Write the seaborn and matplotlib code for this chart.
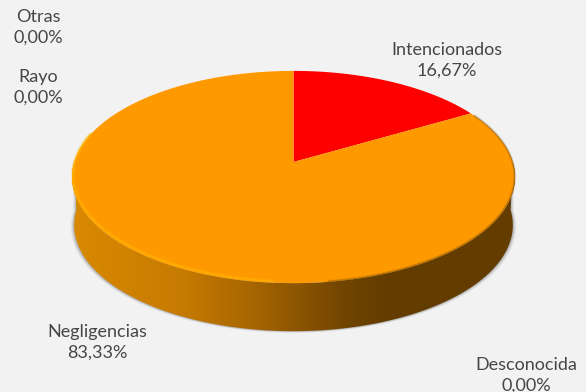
import numpy as np
import matplotlib
matplotlib.use("Agg")
import matplotlib.pyplot as plt
from matplotlib.colors import LinearSegmentedColormap
from matplotlib.patches import Polygon
import seaborn as sns

categories = ["Intencionados", "Negligencias"]
shares = [16.67, 83.33]
slice_colors = ["#ff0000", "#ff9900"]

label_names = ["Otras", "Rayo", "Intencionados", "Negligencias", "Desconocida"]
label_values = ["0,00%", "0,00%", "16,67%", "83,33%", "0,00%"]
label_x = [38, 38, 447, 97, 526]
label_y = [27, 87, 60, 342, 375]

sns.set_theme(style="white", rc={"figure.facecolor": "#f2f2f2", "axes.facecolor": "#f2f2f2"})
plt.rcParams["font.family"] = ["Lato", "DejaVu Sans"]

W, H = 586, 392
fig = plt.figure(figsize=(W / 100, H / 100), dpi=100)
ax = fig.add_axes([0, 0, 1, 1])
ax.set_xlim(0, W)
ax.set_ylim(H, 0)
ax.axis("off")

CX, CY = 293.5, 162.0
A, B, K = 219.3, 104.0, 0.1415
DEPTH = 48


def rim(theta):
    """Project clockwise-from-north angles on the disc to the tilted view."""
    x, y = np.sin(theta), np.cos(theta)
    w = 1 + K * y
    return np.column_stack([CX + A * x / w, CY - B * y / w])


def lower_rim(theta):
    """Bottom edge of the wall, a little narrower than the top face."""
    pts = rim(theta) + [0, DEPTH]
    pts[:, 0] = CX + (pts[:, 0] - CX) * 0.99
    return pts


side_angles = np.linspace(np.pi / 2, 3 * np.pi / 2, 361)

# soft shadow hugging the lower part of the wall
for grow, alpha in [(3.5, 0.06), (2.6, 0.09), (1.7, 0.13), (0.8, 0.2)]:
    low = lower_rim(side_angles)
    low[:, 0] = CX + (low[:, 0] - CX) * (1 + grow / 221)
    low[:, 1] += grow * 0.5
    closing = np.array([[low[-1, 0], 190], [low[0, 0], 190]])
    ax.add_patch(Polygon(np.vstack([low, closing]), closed=True,
                         fc="#4d4d4d", ec="none", alpha=alpha, zorder=1))

# shaded wall of the cylinder
wall_cmap = LinearSegmentedColormap.from_list(
    "wall", [(0, "#d98a00"), (0.25, "#c67a00"), (0.40, "#a86700"), (0.50, "#8f5700"),
             (0.62, "#704400"), (0.72, "#633c00"), (1, "#633c00")])
wall_img = ax.imshow(np.linspace(0, 1, 512)[None, :], cmap=wall_cmap, aspect="auto",
                     extent=[72, 515, 340, 160], zorder=2, interpolation="bilinear")
outline = np.concatenate([rim(side_angles), lower_rim(side_angles[::-1])])
wall = Polygon(outline, closed=True, fc="none", ec="none", transform=ax.transData)
ax.add_patch(wall)
wall_img.set_clip_path(wall)
ax.set_xlim(0, W)
ax.set_ylim(H, 0)

# top face, slices clockwise from north
edges = np.cumsum([0] + shares) / sum(shares) * 2 * np.pi
for start, stop, colour in zip(edges[:-1], edges[1:], slice_colors):
    arc = rim(np.linspace(start, stop, int(360 * (stop - start) / np.pi) + 2))
    ax.add_patch(Polygon(np.vstack([[CX, CY], arc]), closed=True, fc=colour, ec="none", zorder=3))

# bevel: soft highlight along the lower-left rim, soft dark edge on the right
lit = rim(np.linspace(np.radians(185), np.radians(285), 240))
for lw, alpha in [(3.0, 0.2), (1.8, 0.35), (0.9, 0.5)]:
    ax.plot(lit[:, 0] + 1.2, lit[:, 1] - 1.6, color="#ffb300", lw=lw, alpha=alpha, zorder=4)
shade = rim(np.linspace(np.radians(62), np.radians(172), 240))
for lw, alpha in [(2.0, 0.15), (1.0, 0.3)]:
    ax.plot(shade[:, 0] - 0.4, shade[:, 1] - 0.4, color="#6b4200", lw=lw, alpha=alpha, zorder=4)

for name, value, x, y in zip(label_names, label_values, label_x, label_y):
    ax.text(x, y, f"{name}\n{value}", ha="center", va="center", fontsize=13,
            color="#464646", linespacing=1.34, zorder=5)

fig.savefig("out.png", dpi=100, facecolor=fig.get_facecolor())
